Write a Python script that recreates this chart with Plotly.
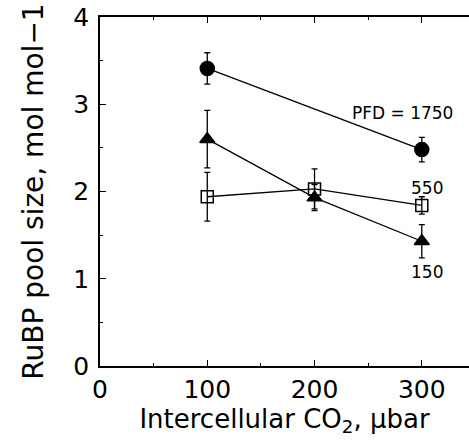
import plotly.graph_objects as go

co2 = [100, 200, 300]
x_hi = [100, 300]
pfd1750 = [3.41, 2.48]
pfd1750_err = [0.18, 0.14]
pfd550 = [1.94, 2.03, 1.84]
pfd550_err = [0.28, 0.23, 0.10]
pfd150 = [2.60, 1.93, 1.43]
pfd150_err = [0.33, 0.15, 0.19]

labels = ["PFD = 1750", "550", "150"]
label_x = [282, 305, 305]
label_y = [2.90, 2.04, 1.08]

font = "DejaVu Sans, sans-serif"
fig = go.Figure()

def add(x, y, e, symbol, size):
    fig.add_trace(go.Scatter(
        x=x, y=y, mode="lines+markers",
        line=dict(color="black", width=1.3),
        marker=dict(symbol=symbol, size=size, color="black",
                    line=dict(color="black", width=1.5)),
        error_y=dict(type="data", array=e, visible=True, color="black",
                     thickness=1.3, width=3),
        showlegend=False, cliponaxis=False))

add(co2, pfd150, pfd150_err, "triangle-up", 13)
add(co2, pfd550, pfd550_err, "square-open", 12)
add(x_hi, pfd1750, pfd1750_err, "circle", 14)

for t, x, y in zip(labels, label_x, label_y):
    fig.add_annotation(x=x, y=y, text=t, showarrow=False,
                       font=dict(family=font, size=17, color="black"))

fig.update_layout(
    width=469, height=446,
    margin=dict(l=100, r=0, t=17, b=80),
    plot_bgcolor="white", paper_bgcolor="white",
    font=dict(family=font, color="black"),
)
fig.update_xaxes(
    range=[0, 344], tickvals=[0, 100, 200, 300], automargin=False,
    ticks="inside", ticklen=6, tickwidth=1.2, tickcolor="black",
    minor=dict(tickvals=[50, 150, 250, 350], ticks="inside", ticklen=3, tickcolor="black"),
    showline=True, linecolor="black", linewidth=1.5, mirror="ticks",
    showgrid=False, zeroline=False,
    tickfont=dict(size=25, family=font),
    title=dict(text="Intercellular CO<sub>2</sub>, μbar", font=dict(size=26, family=font), standoff=6),
)
fig.update_yaxes(
    range=[0, 4], tickvals=[0, 1, 2, 3, 4], automargin=False,
    ticks="inside", ticklen=6, tickwidth=1.2, tickcolor="black",
    minor=dict(tickvals=[0.5, 1.5, 2.5, 3.5], ticks="inside", ticklen=3, tickcolor="black"),
    showline=True, linecolor="black", linewidth=1.5, mirror=False,
    showgrid=False, zeroline=False, ticklabelstandoff=4,
    tickfont=dict(size=25, family=font),
    title=dict(text="RuBP pool size, mol mol−1", font=dict(size=28, family=font), standoff=22),
)

fig.write_html("out.html", config={"displayModeBar": False},
               post_script="document.body.style.margin='0';document.body.style.overflow='hidden';")
